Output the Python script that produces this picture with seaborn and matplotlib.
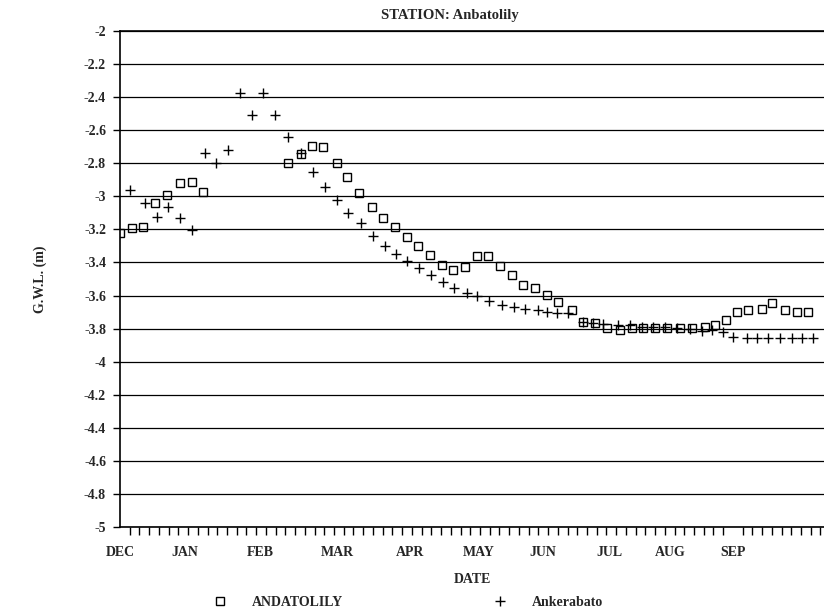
import numpy as np
import pandas as pd
import matplotlib
matplotlib.use("Agg")
import matplotlib.pyplot as plt
from matplotlib.ticker import FixedLocator, FuncFormatter
import seaborn as sns

# ---- data (days since start of December, groundwater level in m) ----
months = ["DEC", "JAN", "FEB", "MAR", "APR", "MAY", "JUN", "JUL", "AUG", "SEP"]
month_label_day = [0, 29, 62.5, 96.9, 129.5, 160.3, 188.8, 218.7, 245.5, 273.6]

andatolily_day = [0, 5.4, 10.3, 15.6, 21.0, 26.8, 32.1, 37.1,
                  75.0, 80.8, 85.7, 90.6, 96.9, 101.3, 106.7, 112.5, 117.4, 122.8,
                  128.1, 133.0, 138.4, 143.7, 148.7, 154.0, 159.4, 164.3, 169.6,
                  175.0, 179.9, 185.3, 190.6, 195.5, 201.8, 206.7, 212.0, 217.4,
                  223.2, 228.6, 233.5, 238.8, 244.2, 250.0, 255.3, 261.1, 265.6,
                  270.5, 275.4, 280.3, 286.6, 291.1, 296.9, 302.2, 307.1]
andatolily_gwl = [-3.222, -3.192, -3.186, -3.041, -2.992, -2.920, -2.913, -2.974,
                  -2.799, -2.744, -2.696, -2.702, -2.799, -2.883, -2.980, -3.065, -3.131, -3.186,
                  -3.246, -3.301, -3.355, -3.416, -3.446, -3.428, -3.361, -3.361, -3.422,
                  -3.476, -3.537, -3.555, -3.597, -3.639, -3.688, -3.760, -3.766, -3.797,
                  -3.809, -3.797, -3.797, -3.797, -3.797, -3.797, -3.797, -3.791, -3.779,
                  -3.748, -3.700, -3.688, -3.682, -3.645, -3.688, -3.700, -3.700]

ankerabato_day = [4.5, 11.2, 16.5, 21.4, 26.8, 32.1, 37.9, 42.9, 48.2, 53.6, 58.9, 63.8,
                  69.2, 75.0, 80.8, 86.2, 91.5, 96.9, 101.8, 107.6, 112.9, 118.3, 123.2,
                  128.1, 133.5, 138.8, 144.2, 149.1, 154.9, 159.4, 164.7, 170.5, 175.9,
                  180.8, 186.6, 190.6, 195.1, 200.0, 206.7, 211.1, 215.6, 222.3, 227.7,
                  233.0, 237.9, 243.3, 248.6, 254.4, 259.8, 264.3, 269.2, 273.6, 279.9,
                  284.4, 289.3, 294.6, 300.0, 304.4, 309.4]
ankerabato_gwl = [-2.962, -3.041, -3.125, -3.065, -3.131, -3.204, -2.738, -2.799, -2.720,
                  -2.375, -2.508, -2.375, -2.508, -2.641, -2.738, -2.853, -2.944, -3.022,
                  -3.101, -3.162, -3.240, -3.301, -3.349, -3.391, -3.434, -3.476, -3.518,
                  -3.555, -3.585, -3.603, -3.633, -3.658, -3.670, -3.682, -3.688, -3.700,
                  -3.706, -3.706, -3.760, -3.766, -3.772, -3.778, -3.778, -3.791, -3.791,
                  -3.791, -3.797, -3.803, -3.815, -3.809, -3.821, -3.851, -3.857, -3.857,
                  -3.857, -3.857, -3.857, -3.857, -3.857]

y_ticks = [-2, -2.2, -2.4, -2.6, -2.8, -3, -3.2, -3.4, -3.6, -3.8, -4, -4.2, -4.4,
           -4.6, -4.8, -5]

df_a = pd.DataFrame({"day": andatolily_day, "gwl": andatolily_gwl})
df_b = pd.DataFrame({"day": ankerabato_day, "gwl": ankerabato_gwl})

# ---- style ----
sns.set_style("white")
plt.rcParams["font.family"] = ["Liberation Serif", "DejaVu Serif"]
plt.rcParams["axes.unicode_minus"] = False

W, H = 824, 611
fig = plt.figure(figsize=(W / 100, H / 100), dpi=100)
ax = fig.add_axes([120 / W, 1 - 527 / H, (W - 120) / W, (527 - 31) / H])

sns.lineplot(data=df_a, x="day", y="gwl", ax=ax, marker="s", linestyle="",
             markersize=6.0, markerfacecolor="none", markeredgecolor="black",
             markeredgewidth=1.0, color="black", label="ANDATOLILY", sort=False)
sns.lineplot(data=df_b, x="day", y="gwl", ax=ax, marker="+", linestyle="",
             markersize=7, markeredgecolor="black", markeredgewidth=1.0,
             color="black", label="Ankerabato", sort=False)

month_len = 30.4
ax.set_xlim(0, (W - 120) * month_len / 68.1)
ax.set_ylim(-5, -2)

# gridlines
ax.yaxis.set_major_locator(FixedLocator(y_ticks))
ax.yaxis.set_major_formatter(FuncFormatter(lambda v, p: f"{v:g}"))
ax.grid(axis="y", color="black", linewidth=0.9)
ax.grid(axis="x", visible=False)

ax.set_xticks(month_label_day)
ax.set_xticklabels(months)
minor = np.arange(0, ax.get_xlim()[1], month_len / 7)
ax.xaxis.set_minor_locator(FixedLocator(minor))

ax.tick_params(axis="x", which="minor", direction="out", length=6, width=1,
               color="black", bottom=True)
ax.tick_params(axis="x", which="major", direction="out", length=0, width=1,
               color="black", labelsize=10, pad=14, bottom=True)
ax.tick_params(axis="y", which="major", direction="out", length=5, width=1,
               color="black", labelsize=10, pad=5, left=True)
for lab in ax.get_xticklabels() + ax.get_yticklabels():
    lab.set_fontweight("bold")

ax.spines["right"].set_visible(False)
for s in ["left", "bottom", "top"]:
    ax.spines[s].set_color("black")
    ax.spines[s].set_linewidth(1.2)

ax.set_xlabel("DATE", fontsize=10, fontweight="bold", labelpad=10)
ax.set_ylabel("")
fig.text(40 / W, 1 - 279 / H, "G.W.L. (m)", rotation=90, ha="center", va="center",
         fontsize=10, fontweight="bold")
fig.text(450 / W, 1 - 15 / H, "STATION: Anbatolily", ha="center", va="center",
         fontsize=10.5, fontweight="bold")

leg_handles, leg_labels = ax.get_legend_handles_labels()
ax.get_legend().remove()
fig.legend(leg_handles, leg_labels, loc="center", bbox_to_anchor=(408 / W, 1 - 602 / H),
           ncol=2, frameon=False, handlelength=1.0, handletextpad=1.8,
           columnspacing=10.75, prop={"weight": "bold", "size": 10})

fig.savefig("out.png", dpi=100)
